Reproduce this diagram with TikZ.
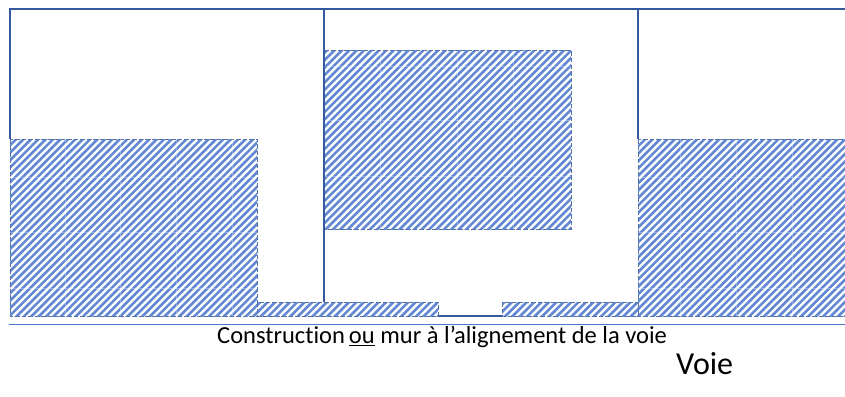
\documentclass[tikz,border=0pt]{standalone}
\usepackage{fontspec}
\setmainfont[Ligatures=NoCommon]{Carlito}
\definecolor{hatchblue}{HTML}{6389D2}
\definecolor{edgeblue}{HTML}{35599E}
\definecolor{ruleblue}{HTML}{4F7BC8}
\tikzset{
  wall/.style={edgeblue,line width=1.1pt},
  hatchedge/.style={edgeblue!85!white,line width=1pt,dash pattern=on 4.5pt off 2pt},
  gridline/.style={white,line width=0.6pt,opacity=0.3},
  label/.style={inner sep=0pt,text=black}
}
% args: x1,y1,x2,y2
\newcommand{\hatchrect}[4]{%
  \begin{scope}
    \clip (#1,#2) rectangle (#3,#4);
    \fill[white] (#1,#2) rectangle (#3,#4);
    \pgfmathtruncatemacro{\kmin}{floor((#1+#2)/7.4)}
    \pgfmathtruncatemacro{\kmax}{ceil((#3+#4)/7.4)}
    \foreach \k in {\kmin,...,\kmax}{
      \draw[hatchblue,line width=2.6pt] ({\k*7.4-#2+20},#2-20) -- ({\k*7.4-#4-20},#4+20);
    }
  \end{scope}
  \draw[hatchedge] (#1,#2) rectangle (#3,#4);
}
\begin{document}
\begin{tikzpicture}[x=1pt,y=-1pt]
\useasboundingbox (0,0) rectangle (845,396);
\fill[white] (0,0) rectangle (845,396);
% blocks
\hatchrect{10}{139}{257}{316}
\hatchrect{324}{51}{571}{229}
\hatchrect{638}{139}{846}{316}
\hatchrect{257}{302}{438}{316}
\hatchrect{502}{302}{638}{316}
% faint grid inside the blocks
\foreach \x in {65,120,176,232} \draw[gridline] (\x,139) -- (\x,316);
\foreach \y in {177,232,288} \draw[gridline] (10,\y) -- (257,\y);
\foreach \x in {380,457,513} \draw[gridline] (\x,51) -- (\x,229);
\foreach \y in {66,120,176} \draw[gridline] (324,\y) -- (571,\y);
\foreach \x in {680,736,792} \draw[gridline] (\x,139) -- (\x,316);
\foreach \y in {177,232,288} \draw[gridline] (638,\y) -- (845,\y);
% walls
\draw[wall] (10,139) -- (10,9) -- (845,9);
\draw[wall] (324,9) -- (324,302);
\draw[wall] (638,9) -- (638,139);
\draw[wall] (438,316) -- (502,316);
\draw[ruleblue,line width=1.4pt] (9,324.5) -- (845,324.5);
% text
\node[label,anchor=base west,font=\fontsize{24.5pt}{26pt}\selectfont] (caption) at (217,343.5) {Construction\,\underline{ou} mur à l’alignement de la voie};
\node[label,anchor=base west,font=\fontsize{32pt}{34pt}\selectfont] (voie) at (676,374) {Voie};
\end{tikzpicture}
\end{document}
